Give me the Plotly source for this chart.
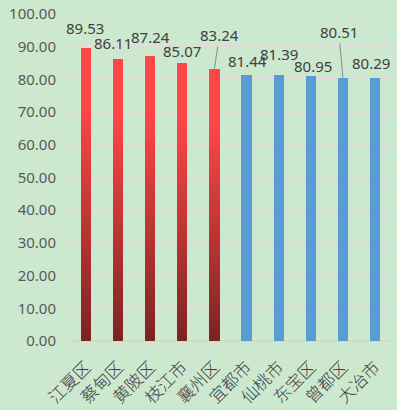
import plotly.graph_objects as go

categories = ["江夏区", "蔡甸区", "黄陂区", "枝江市", "襄州区",
              "宜都市", "仙桃市", "东宝区", "曾都区", "大冶市"]
values = [89.53, 86.11, 87.24, 85.07, 83.24, 81.44, 81.39, 80.95, 80.51, 80.29]
red_group = [True, True, True, True, True, False, False, False, False, False]
y_tick_values = [0, 10, 20, 30, 40, 50, 60, 70, 80, 90, 100]
y_tick_labels = ["0.00", "10.00", "20.00", "30.00", "40.00", "50.00",
                 "60.00", "70.00", "80.00", "90.00", "100.00"]

# label placement (pixel offsets) - styling only
label_dx = [-1, -5, 0, 0, 5, 1, 0, 2, -4, -4]
label_dy = [-8, -4, -7, 0, -34, -2, -9, 2, -46, -3]
leader = [False, False, False, False, True, False, False, False, True, False]

BRIGHT = (255, 70, 70)
DARK = (125, 35, 35)
BLUE = "#5B9BD5"
BG = "#CCE8CF"
N_SEG = 60
BAR_W = 0.32


def mix(t):
    t = max(0.0, min(1.0, t / 0.8))
    c = [round(DARK[i] + (BRIGHT[i] - DARK[i]) * t) for i in range(3)]
    return "rgb(%d,%d,%d)" % tuple(c)


fig = go.Figure()

# red gradient bars built from stacked segments
for cat, v, red in zip(categories, values, red_group):
    if not red:
        continue
    h = v / N_SEG
    xs, ys, bases, cols = [], [], [], []
    for i in range(N_SEG):
        xs.append(cat)
        bases.append(i * h)
        ys.append(h * 1.6 if i < N_SEG - 1 else h)
        cols.append(mix((i + 0.5) / N_SEG))
    fig.add_trace(go.Bar(x=xs, y=ys, base=bases, width=BAR_W,
                         marker=dict(color=cols, line=dict(width=0)),
                         hoverinfo="skip", showlegend=False))

blue_x = [c for c, r in zip(categories, red_group) if not r]
blue_y = [v for v, r in zip(values, red_group) if not r]
fig.add_trace(go.Bar(x=blue_x, y=blue_y, width=BAR_W,
                     marker=dict(color=BLUE, line=dict(width=0)),
                     showlegend=False))

LABEL_FONT = dict(size=15, color="#404040", family="Noto Sans")
for cat, v, dx, dy, ld in zip(categories, values, label_dx, label_dy, leader):
    if ld:
        fig.add_annotation(x=cat, y=v, text="%.2f" % v, showarrow=True,
                           arrowhead=0, arrowwidth=1, arrowcolor="#8c8c8c",
                           ax=dx, ay=dy, standoff=0, font=LABEL_FONT)
    else:
        fig.add_annotation(x=cat, y=v, text="%.2f" % v, showarrow=False,
                           xshift=dx, yshift=-dy, yanchor="bottom",
                           font=LABEL_FONT)

fig.update_layout(
    width=397, height=410,
    margin=dict(l=70, r=6, t=14, b=69),
    paper_bgcolor=BG, plot_bgcolor=BG,
    barmode="overlay", bargap=0,
    font=dict(family="Noto Sans, Noto Sans CJK SC", color="#595959", size=15),
    xaxis=dict(type="category", categoryorder="array", categoryarray=categories,
               range=[-0.5, 9.5], tickangle=-45, showgrid=False, zeroline=False,
               showline=False, ticks="", automargin=False, ticklabelstandoff=12,
               tickfont=dict(family="Noto Sans CJK SC", size=17, weight=300,
                             color="#404040")),
    yaxis=dict(range=[0, 100], tickvals=y_tick_values, ticktext=y_tick_labels,
               showgrid=True, gridcolor="#E3D8DB", gridwidth=1.5, zeroline=True,
               zerolinecolor="#D9D4D4", zerolinewidth=2, showline=False, ticks="",
               ticklabelstandoff=13, automargin=False,
               tickfont=dict(family="Noto Sans", size=15, color="#595959")),
)

fig.write_html(
    "out.html",
    config={"displayModeBar": False},
    post_script="document.body.style.margin='0';"
                "document.body.style.background='" + BG + "';",
)
